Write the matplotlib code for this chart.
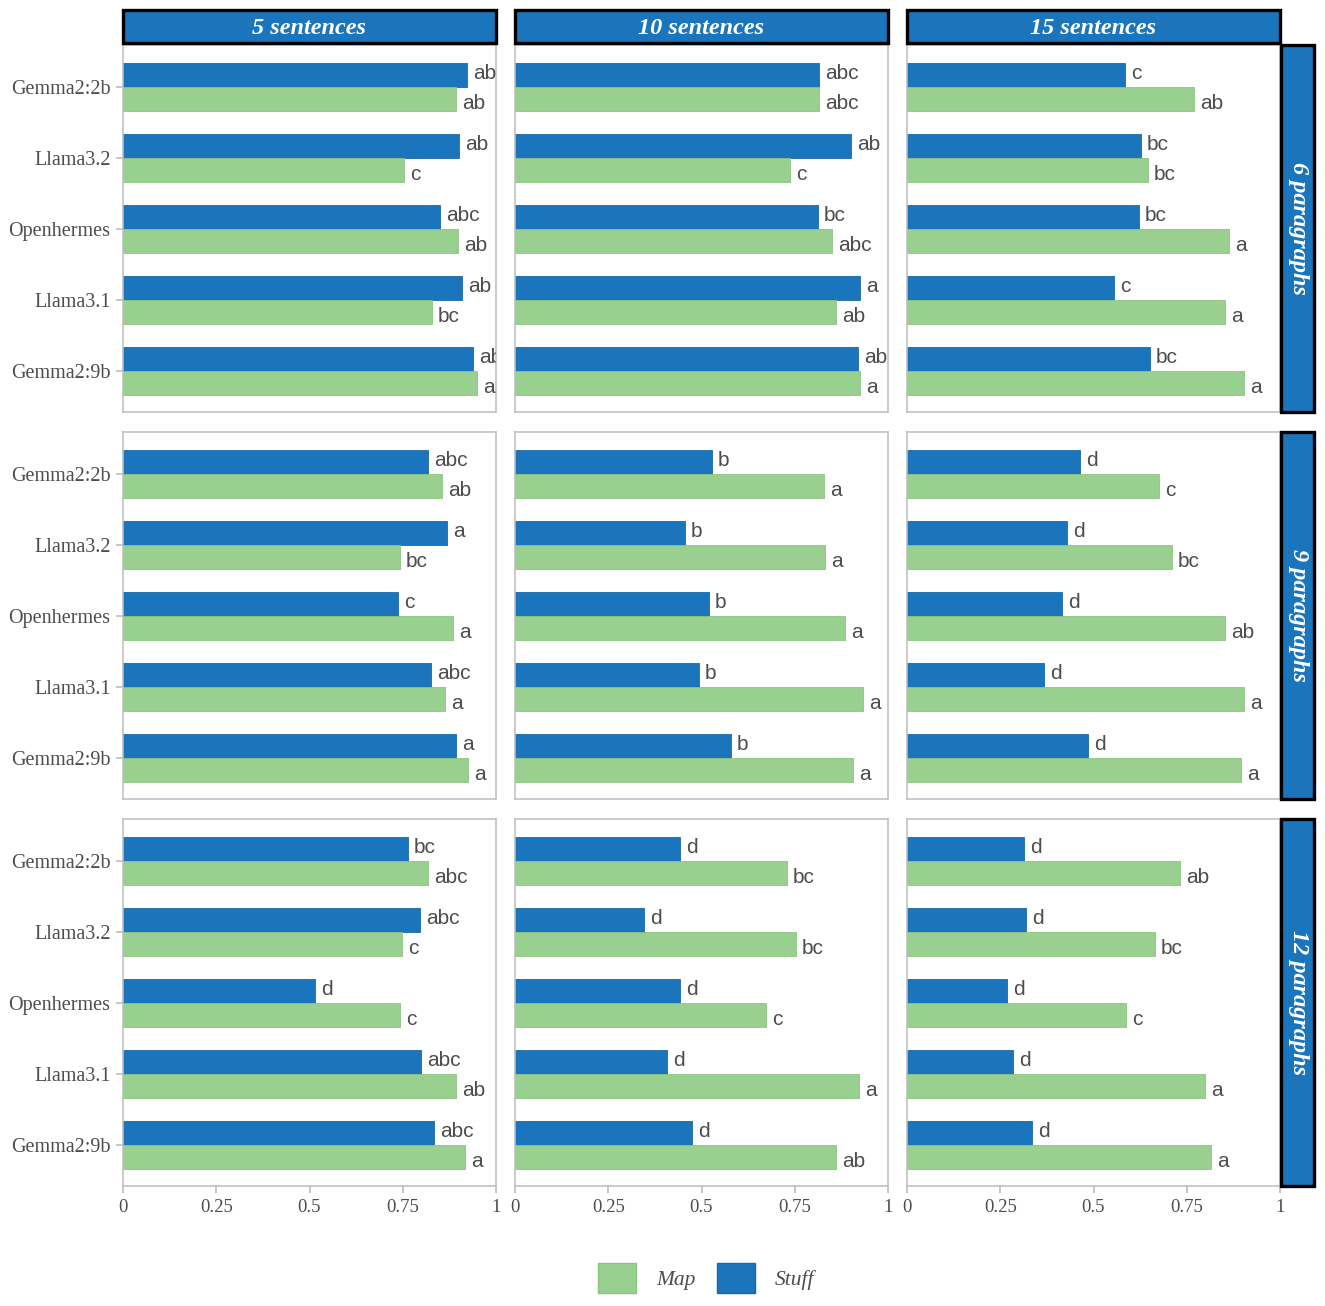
import matplotlib.pyplot as plt
from matplotlib.patches import Rectangle, Patch

plt.rcParams['font.family'] = ['Liberation Serif', 'DejaVu Serif']

models = ['Gemma2:2b', 'Llama3.2', 'Openhermes', 'Llama3.1', 'Gemma2:9b']
col_labels = ['5 sentences', '10 sentences', '15 sentences']
row_labels = ['6 paragraphs', '9 paragraphs', '12 paragraphs']

# values per row (paragraphs), then per column (sentences), models top to bottom
stuff_vals = [
    [[0.922, 0.901, 0.850, 0.909, 0.938],
     [0.815, 0.901, 0.812, 0.925, 0.920],
     [0.584, 0.627, 0.622, 0.555, 0.651]],
    [[0.818, 0.869, 0.737, 0.826, 0.893],
     [0.528, 0.456, 0.520, 0.493, 0.579],
     [0.464, 0.429, 0.416, 0.367, 0.485]],
    [[0.764, 0.796, 0.515, 0.799, 0.834],
     [0.442, 0.346, 0.442, 0.408, 0.475],
     [0.314, 0.319, 0.268, 0.284, 0.335]],
]
map_vals = [
    [[0.893, 0.753, 0.898, 0.828, 0.949],
     [0.815, 0.737, 0.850, 0.861, 0.925],
     [0.770, 0.646, 0.863, 0.853, 0.903]],
    [[0.855, 0.743, 0.885, 0.863, 0.925],
     [0.828, 0.831, 0.885, 0.933, 0.906],
     [0.676, 0.710, 0.853, 0.903, 0.895]],
    [[0.818, 0.748, 0.743, 0.893, 0.917],
     [0.729, 0.753, 0.673, 0.922, 0.861],
     [0.732, 0.665, 0.587, 0.799, 0.815]],
]
stuff_letters = [
    [['ab', 'ab', 'abc', 'ab', 'ab'],
     ['abc', 'ab', 'bc', 'a', 'ab'],
     ['c', 'bc', 'bc', 'c', 'bc']],
    [['abc', 'a', 'c', 'abc', 'a'],
     ['b', 'b', 'b', 'b', 'b'],
     ['d', 'd', 'd', 'd', 'd']],
    [['bc', 'abc', 'd', 'abc', 'abc'],
     ['d', 'd', 'd', 'd', 'd'],
     ['d', 'd', 'd', 'd', 'd']],
]
map_letters = [
    [['ab', 'c', 'ab', 'bc', 'a'],
     ['abc', 'c', 'abc', 'ab', 'a'],
     ['ab', 'bc', 'a', 'a', 'a']],
    [['ab', 'bc', 'a', 'a', 'a'],
     ['a', 'a', 'a', 'a', 'a'],
     ['c', 'bc', 'ab', 'a', 'a']],
    [['abc', 'c', 'c', 'ab', 'a'],
     ['bc', 'bc', 'c', 'a', 'ab'],
     ['ab', 'bc', 'c', 'a', 'a']],
]

blue = '#1b75bc'
green = '#9ad08f'
grey_txt = '#4d4d4d'
frame = '#bdbdbd'

W, H = 1325, 1306
fig = plt.figure(figsize=(W / 100, H / 100), dpi=100)

col_x = [123, 515, 907]
row_y = [45, 432, 819]
pw, ph = 373, 367
bh = 0.34
ypos = list(range(len(models)))

for r in range(3):
    for c in range(3):
        ax = fig.add_axes([col_x[c] / W, 1 - (row_y[r] + ph) / H, pw / W, ph / H])
        ax.barh([y - bh / 2 for y in ypos], stuff_vals[r][c], height=bh,
                color=blue, edgecolor='#1669a8', linewidth=0.6)
        ax.barh([y + bh / 2 for y in ypos], map_vals[r][c], height=bh,
                color=green, edgecolor='#8cc481', linewidth=0.6)
        for i in ypos:
            ax.text(stuff_vals[r][c][i] + 0.016, i - bh / 2 - 0.02, stuff_letters[r][c][i],
                    va='center', ha='left', fontsize=15, color=grey_txt,
                    family='Liberation Sans', clip_on=True)
            ax.text(map_vals[r][c][i] + 0.016, i + bh / 2 + 0.06, map_letters[r][c][i],
                    va='center', ha='left', fontsize=15, color=grey_txt,
                    family='Liberation Sans', clip_on=True)
        ax.set_xlim(0, 1)
        ax.set_ylim(4.58, -0.59)
        ax.set_yticks(ypos)
        ax.set_xticks([0, 0.25, 0.5, 0.75, 1])
        ax.tick_params(color=frame, width=1.2, length=5, pad=4)
        if c == 0:
            ax.set_yticklabels(models, fontsize=14.5, color=grey_txt)
        else:
            ax.set_yticklabels([])
            ax.tick_params(axis='y', length=0)
        if r == 2:
            ax.set_xticklabels(['0', '0.25', '0.5', '0.75', '1'], fontsize=13.5, color=grey_txt)
        else:
            ax.set_xticklabels([])
            ax.tick_params(axis='x', length=0)
        for sp in ax.spines.values():
            sp.set_color(frame)
            sp.set_linewidth(1.1)

        # top strip
        if r == 0:
            fig.patches.append(Rectangle((col_x[c] / W, 1 - 43 / H), pw / W, 33 / H,
                                         transform=fig.transFigure, facecolor=blue,
                                         edgecolor='black', linewidth=2.4))
            fig.text((col_x[c] + pw / 2) / W, 1 - 29 / H, col_labels[c],
                     ha='center', va='center', color='white', fontsize=17.5,
                     fontweight='bold', fontstyle='italic')
        # right strip
        if c == 2:
            fig.patches.append(Rectangle((1281 / W, 1 - (row_y[r] + ph) / H), 33 / W, ph / H,
                                         transform=fig.transFigure, facecolor=blue,
                                         edgecolor='black', linewidth=2.4))
            fig.text(1298 / W, 1 - (row_y[r] + ph / 2) / H, row_labels[r],
                     ha='center', va='center', color='white', fontsize=17.5,
                     fontweight='bold', fontstyle='italic', rotation=270)

handles = [Patch(facecolor=green, edgecolor='#8cc481', label='Map'),
           Patch(facecolor=blue, edgecolor='#1669a8', label='Stuff')]
leg = fig.legend(handles=handles, loc='center', bbox_to_anchor=(706 / W, 1 - 1278 / H),
                 ncol=2, frameon=False, handlelength=1.8, handleheight=1.8,
                 columnspacing=1.0, handletextpad=0.9,
                 prop={'size': 15.5, 'style': 'italic', 'family': 'Liberation Serif'})
for t in leg.get_texts():
    t.set_color(grey_txt)

fig.savefig('out.png', dpi=100)
